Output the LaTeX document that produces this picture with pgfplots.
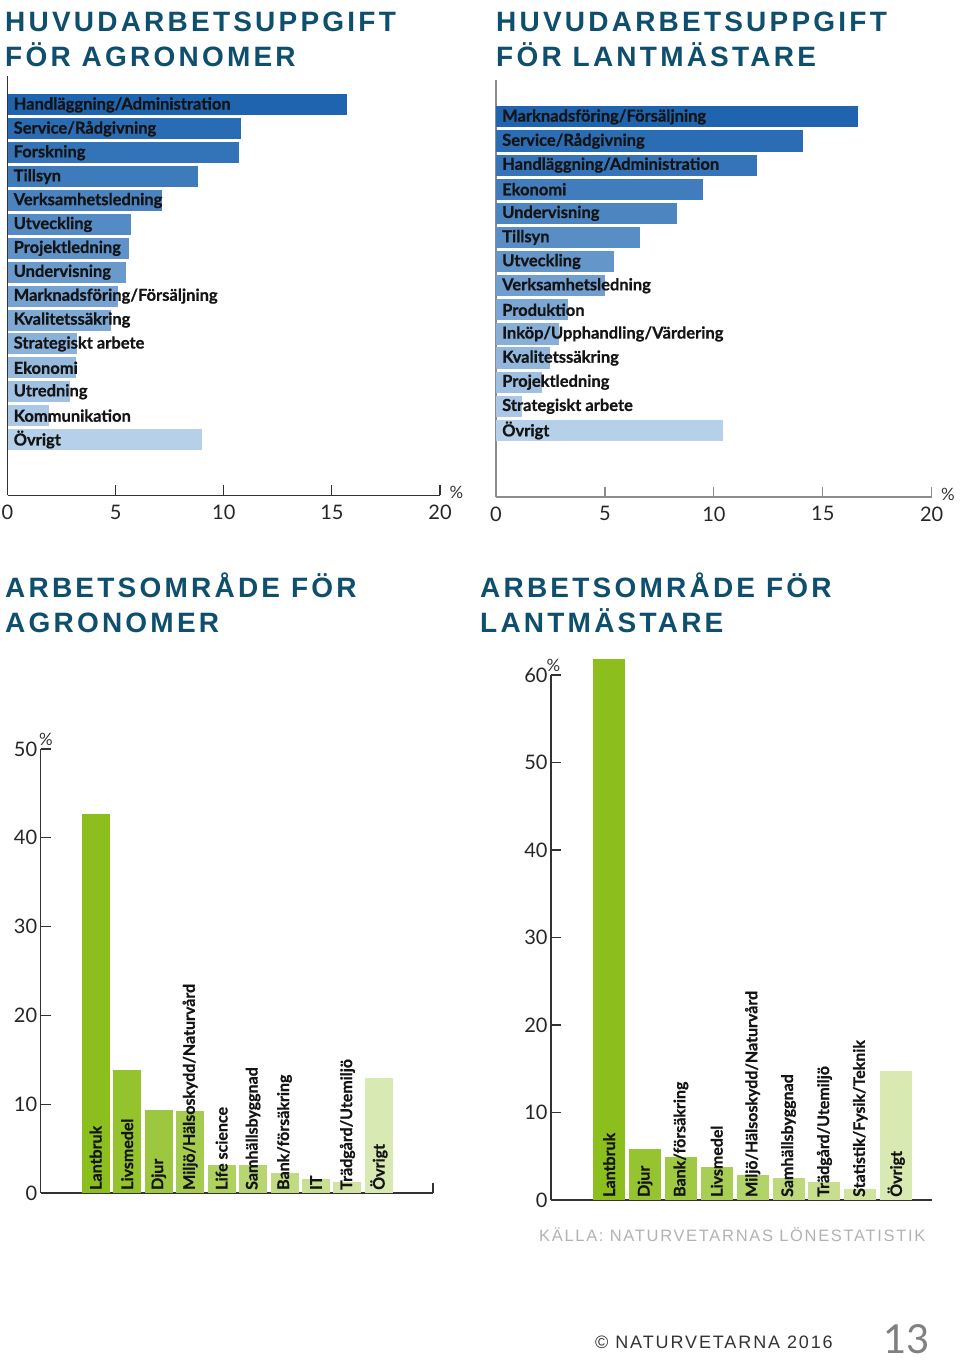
\documentclass[border=0pt]{standalone}
\usepackage{pgfplots}
\pgfplotsset{compat=1.18}
\usepackage{fontspec}
\setmainfont{Lato}
\newfontfamily\labfont[BoldFeatures={FakeBold=0.7}]{Lato}
\newfontfamily\titlefont[LetterSpace=11.5]{Liberation Sans}
\newfontfamily\srcfont[LetterSpace=10.2]{Liberation Sans}
\newfontfamily\footfont[LetterSpace=10.5]{Liberation Sans}
\definecolor{titleblue}{HTML}{0F4F6E}
\definecolor{darkB}{HTML}{1E64AF}
\definecolor{lightB}{HTML}{B6D0EA}
\definecolor{darkG}{HTML}{8CBE1E}
\definecolor{lightG}{HTML}{D9E9B2}
\definecolor{axgray}{HTML}{333333}
\newcommand{\ticks}{\fontsize{20}{20}\selectfont}
\newcommand{\labf}{\labfont\bfseries\fontsize{16.5}{16.5}\selectfont}
\newcommand{\labv}{\labfont\bfseries\fontsize{16}{16}\selectfont}
\newcommand{\hb}[3]{\addplot[xbar, bar width=0.88, bar shift=0pt, draw=none, fill=darkB!#3!lightB] coordinates {(#1,#2)};}
\newcommand{\vb}[3]{\addplot[ybar, bar width=0.89, bar shift=0pt, draw=none, fill=darkG!#3!lightG] coordinates {(#1,#2)};}
\tikzset{
  hl/.style={font=\labf, text=black!92, anchor=west, inner sep=0pt, xshift=6pt},
  vl/.style={font=\labv, text=black!92, anchor=west, rotate=90, inner xsep=3pt, inner ysep=0pt},
}
\pgfplotsset{
  hbase/.style={scale only axis, clip=false,
    axis x line*=bottom, axis y line*=left,
    xmin=0, xmax=20, xtick={0,5,10,15,20}, ytick=\empty,
    xtick align=inside, major tick length=10pt,
    axis line style={draw=axgray, line width=1.2pt},
    tick style={draw=axgray, line width=1.2pt},
    /pgf/number format/assume math mode=true,
    xticklabel style={font=\ticks, text=black!85, yshift=-6pt}},
  vbase/.style={scale only axis, clip=false,
    axis x line*=bottom, axis y line*=left,
    ymin=0, ytick distance=10,
    ytick align=inside, major tick length=10pt,
    axis line style={draw=axgray, line width=1.2pt},
    tick style={draw=axgray, line width=1.2pt},
    /pgf/number format/assume math mode=true,
    yticklabel style={font=\ticks, text=black!85},
    xticklabels={}},
}
\begin{document}
\begin{tikzpicture}
\useasboundingbox (0pt,0pt) rectangle (960pt,1364pt);
% titles
\begin{scope}[every node/.style={anchor=base west, inner sep=0pt, text=titleblue, font=\titlefont\bfseries\fontsize{28}{28}\selectfont}]
\node at (5pt,1332pt) {HUVUDARBETSUPPGIFT};
\node at (5pt,1297pt) {FÖR AGRONOMER};
\node at (496pt,1332pt) {HUVUDARBETSUPPGIFT};
\node at (496pt,1297pt) {FÖR LANTMÄSTARE};
\node at (5pt,766pt) {ARBETSOMRÅDE FÖR};
\node at (5pt,731pt) {AGRONOMER};
\node at (480pt,766pt) {ARBETSOMRÅDE FÖR};
\node at (480pt,731pt) {LANTMÄSTARE};
\end{scope}

% Panel 1
\begin{axis}[hbase, at={(7.5pt,868.5pt)}, anchor=south west, width=432.5pt, height=419.5pt, ymin=-16.34, ymax=1.21]
\hb{15.7}{0}{100}
\hb{10.8}{-1}{93}
\hb{10.7}{-2}{86}
\hb{8.8}{-3}{79}
\hb{7.15}{-4}{71}
\hb{5.7}{-5}{64}
\hb{5.6}{-6}{57}
\hb{5.5}{-7}{50}
\hb{5.1}{-8}{43}
\hb{4.8}{-9}{36}
\hb{3.2}{-10}{29}
\hb{3.15}{-11}{21}
\hb{2.9}{-12}{14}
\hb{1.9}{-13}{7}
\hb{9.0}{-14}{0}
\node[hl] at (axis cs:0,0) {Handläggning/Administration};
\node[hl] at (axis cs:0,-1) {Service/Rådgivning};
\node[hl] at (axis cs:0,-2) {Forskning};
\node[hl] at (axis cs:0,-3) {Tillsyn};
\node[hl] at (axis cs:0,-4) {Verksamhetsledning};
\node[hl] at (axis cs:0,-5) {Utveckling};
\node[hl] at (axis cs:0,-6) {Projektledning};
\node[hl] at (axis cs:0,-7) {Undervisning};
\node[hl] at (axis cs:0,-8) {Marknadsföring/Försäljning};
\node[hl] at (axis cs:0,-9) {Kvalitetssäkring};
\node[hl] at (axis cs:0,-10) {Strategiskt arbete};
\node[hl] at (axis cs:0,-11) {Ekonomi};
\node[hl] at (axis cs:0,-12) {Utredning};
\node[hl] at (axis cs:0,-13) {Kommunikation};
\node[hl] at (axis cs:0,-14) {Övrigt};
\node[anchor=west, font=\fontsize{17}{17}\selectfont, text=black!80] at (rel axis cs:1,0) [xshift=6pt, yshift=3pt] {\%};
\end{axis}

% Panel 2
\begin{axis}[hbase, at={(496pt,867pt)}, anchor=south west, width=435.7pt, height=417pt, ymin=-15.76, ymax=1.53,
  axis line style={draw=black!45, line width=1.2pt}, tick style={draw=black!45, line width=1.2pt}]
\hb{16.6}{0}{100}
\hb{14.1}{-1}{92}
\hb{12.0}{-2}{85}
\hb{9.5}{-3}{77}
\hb{8.3}{-4}{69}
\hb{6.6}{-5}{62}
\hb{5.4}{-6}{54}
\hb{5.0}{-7}{46}
\hb{3.3}{-8}{38}
\hb{2.9}{-9}{31}
\hb{2.5}{-10}{23}
\hb{2.1}{-11}{15}
\hb{1.2}{-12}{8}
\hb{10.4}{-13}{0}
\node[hl] at (axis cs:0,0) {Marknadsföring/Försäljning};
\node[hl] at (axis cs:0,-1) {Service/Rådgivning};
\node[hl] at (axis cs:0,-2) {Handläggning/Administration};
\node[hl] at (axis cs:0,-3) {Ekonomi};
\node[hl] at (axis cs:0,-4) {Undervisning};
\node[hl] at (axis cs:0,-5) {Tillsyn};
\node[hl] at (axis cs:0,-6) {Utveckling};
\node[hl] at (axis cs:0,-7) {Verksamhetsledning};
\node[hl] at (axis cs:0,-8) {Produktion};
\node[hl] at (axis cs:0,-9) {Inköp/Upphandling/Värdering};
\node[hl] at (axis cs:0,-10) {Kvalitetssäkring};
\node[hl] at (axis cs:0,-11) {Projektledning};
\node[hl] at (axis cs:0,-12) {Strategiskt arbete};
\node[hl] at (axis cs:0,-13) {Övrigt};
\node[anchor=west, font=\fontsize{17}{17}\selectfont, text=black!80] at (rel axis cs:1,0) [xshift=6pt, yshift=3pt] {\%};
\end{axis}

% Panel 3
\begin{axis}[vbase, at={(40.7pt,171pt)}, anchor=south west, width=392.3pt, height=444pt, ymax=50,
  xmin=-1.75, xmax=10.72, xtick={10.72}]
\vb{0}{42.7}{100}
\vb{1}{13.8}{89}
\vb{2}{9.4}{78}
\vb{3}{9.25}{67}
\vb{4}{3.1}{56}
\vb{5}{3.1}{44}
\vb{6}{2.2}{33}
\vb{7}{1.6}{22}
\vb{8}{1.2}{11}
\vb{9}{13.0}{0}
\node[vl] at (axis cs:0,0) {Lantbruk};
\node[vl] at (axis cs:1,0) {Livsmedel};
\node[vl] at (axis cs:2,0) {Djur};
\node[vl] at (axis cs:3,0) {Miljö/Hälsoskydd/Naturvård};
\node[vl] at (axis cs:4,0) {Life science};
\node[vl] at (axis cs:5,0) {Samhällsbyggnad};
\node[vl] at (axis cs:6,0) {Bank/försäkring};
\node[vl] at (axis cs:7,0) {IT};
\node[vl] at (axis cs:8,0) {Trädgård/Utemiljö};
\node[vl] at (axis cs:9,0) {Övrigt};
\node[anchor=south west, font=\fontsize{17}{17}\selectfont, text=black!80] at (rel axis cs:0,1) [xshift=-5pt, yshift=0pt] {\%};
\end{axis}

% Panel 4
\begin{axis}[vbase, at={(551pt,164pt)}, anchor=south west, width=380.7pt, height=525pt, ymax=60,
  xmin=-1.62, xmax=8.99, xtick=\empty]
\vb{0}{61.8}{100}
\vb{1}{5.86}{87}
\vb{2}{4.97}{75}
\vb{3}{3.8}{62}
\vb{4}{2.87}{50}
\vb{5}{2.5}{37}
\vb{6}{2.1}{25}
\vb{7}{1.3}{12}
\vb{8}{14.7}{0}
\node[vl] at (axis cs:0,0) {Lantbruk};
\node[vl] at (axis cs:1,0) {Djur};
\node[vl] at (axis cs:2,0) {Bank/försäkring};
\node[vl] at (axis cs:3,0) {Livsmedel};
\node[vl] at (axis cs:4,0) {Miljö/Hälsoskydd/Naturvård};
\node[vl] at (axis cs:5,0) {Samhällsbyggnad};
\node[vl] at (axis cs:6,0) {Trädgård/Utemiljö};
\node[vl] at (axis cs:7,0) {Statistik/Fysik/Teknik};
\node[vl] at (axis cs:8,0) {Övrigt};
\node[anchor=south west, font=\fontsize{17}{17}\selectfont, text=black!80] at (rel axis cs:0,1) [xshift=-8pt, yshift=0pt] {\%};
\end{axis}

% source and footer
\node[anchor=base west, inner sep=0pt, text=black!30, font=\srcfont\fontsize{16.5}{16.5}\selectfont] at (539pt,122pt) {KÄLLA: NATURVETARNAS LÖNESTATISTIK};
\node[anchor=base west, inner sep=0pt, text=black!80, font=\footfont\fontsize{18}{18}\selectfont] at (595pt,15pt) {© NATURVETARNA 2016};
\node[anchor=base east, inner sep=0pt, text=black!50, font=\fontsize{40}{40}\selectfont] at (930pt,10pt) {13};
\end{tikzpicture}
\end{document}
